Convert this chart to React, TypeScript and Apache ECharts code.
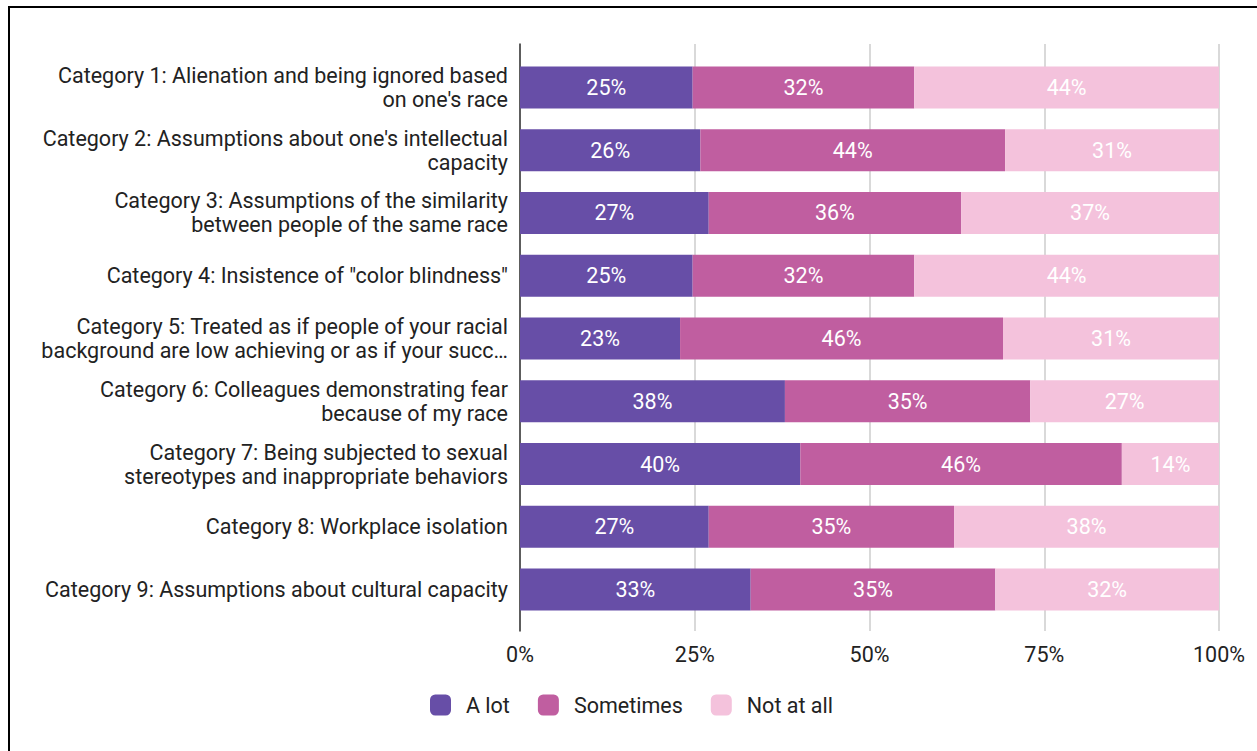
import React, { useEffect, useRef } from "react";
import * as echarts from "echarts";

const categories = [
  "Category 1: Alienation and being ignored based\non one's race",
  "Category 2: Assumptions about one's intellectual\ncapacity",
  "Category 3: Assumptions of the similarity\nbetween people of the same race",
  'Category 4: Insistence of "color blindness"',
  "Category 5: Treated as if people of your racial\nbackground are low achieving or as if your succ…",
  "Category 6: Colleagues demonstrating fear\nbecause of my race",
  "Category 7: Being subjected to sexual\nstereotypes and inappropriate behaviors",
  "Category 8: Workplace isolation",
  "Category 9: Assumptions about cultural capacity",
];

const aLot = [24.7, 25.8, 27.0, 24.7, 22.9, 37.9, 40.1, 27.0, 33.0];
const sometimes = [31.7, 43.6, 36.1, 31.7, 46.2, 35.1, 46.0, 35.1, 35.0];
const notAtAll = [43.6, 30.6, 36.9, 43.6, 30.9, 27.0, 13.9, 37.9, 32.0];

const seriesNames = ["A lot", "Sometimes", "Not at all"];
const colors = ["#674ea7", "#c05ea0", "#f4c2dc"];
const xTicks = [0, 25, 50, 75, 100];

const FONT = "Roboto";
const FS = 21.5;

export default function App() {
  const ref = useRef<HTMLDivElement>(null);
  useEffect(() => {
    if (!ref.current) return;
    const chart = echarts.init(ref.current, null, { renderer: "svg" });
    const dataSets = [aLot, sometimes, notAtAll];
    chart.setOption({
      animation: false,
      backgroundColor: "#fff",
      textStyle: { fontFamily: FONT },
      graphic: [
        {
          type: "rect",
          shape: { x: 9, y: 7, width: 1300, height: 800 },
          style: { fill: "none", stroke: "#000", lineWidth: 2 },
          z: 100,
        },
      ],
      legend: {
        data: seriesNames,
        left: 425,
        top: 689,
        itemWidth: 21,
        itemHeight: 21,
        itemGap: 28,
        icon: "roundRect",
        textStyle: {
          fontFamily: FONT,
          fontSize: FS,
          color: "#222",
          padding: [0, 0, 0, 10],
        },
      },
      grid: [
        { left: 520, right: 38, top: 44, bottom: 120 },
        { left: 520, right: 38, top: 56, bottom: 130 },
      ],
      xAxis: [
        {
          type: "value",
          gridIndex: 0,
          min: 0,
          max: 100,
          interval: 25,
          axisLine: { show: false },
          axisTick: { show: false },
          splitLine: { show: true, lineStyle: { color: "#cccccc", width: 1.5 } },
          axisLabel: {
            fontFamily: FONT,
            fontSize: FS,
            color: "#222",
            margin: 12,
            formatter: (v: number) => (xTicks.includes(v) ? v + "%" : ""),
          },
        },
        {
          type: "value",
          gridIndex: 1,
          min: 0,
          max: 100,
          show: false,
        },
      ],
      yAxis: [
        {
          type: "value",
          gridIndex: 0,
          min: 0,
          max: 1,
          axisLine: { show: true, lineStyle: { color: "#333", width: 1.5 } },
          axisTick: { show: false },
          axisLabel: { show: false },
          splitLine: { show: false },
        },
        {
          type: "category",
          gridIndex: 1,
          inverse: true,
          data: categories,
          axisLine: { show: false },
          axisTick: { show: false },
          splitLine: { show: false },
          axisLabel: {
            fontFamily: FONT,
            fontSize: FS,
            color: "#222",
            margin: 12,
            lineHeight: 24,
            align: "right",
          },
        },
      ],
      series: seriesNames.map((name, i) => ({
        name,
        type: "bar",
        stack: "total",
        xAxisIndex: 1,
        yAxisIndex: 1,
        barWidth: 42,
        itemStyle: { color: colors[i] },
        label: {
          show: true,
          position: "inside",
          color: "#fff",
          fontFamily: FONT,
          fontSize: FS,
          formatter: (p: any) => Math.round(p.value) + "%",
        },
        data: dataSets[i],
      })),
    });
    return () => chart.dispose();
  }, []);
  return (
    <div
      ref={ref}
      style={{ position: "absolute", left: 0, top: 0, width: 1257, height: 751 }}
    />
  );
}
